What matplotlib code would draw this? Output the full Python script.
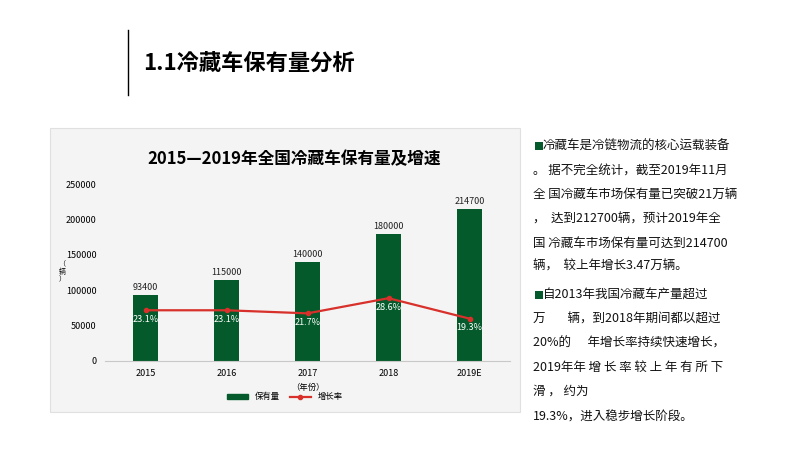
import matplotlib
matplotlib.use("Agg")
import matplotlib.pyplot as plt
from matplotlib.patches import Rectangle
from matplotlib.lines import Line2D

years = ["2015", "2016", "2017", "2018", "2019E"]
stock = [93400, 115000, 140000, 180000, 214700]
growth = [23.1, 23.1, 21.7, 28.6, 19.3]
yticks = [0, 50000, 100000, 150000, 200000, 250000]

plt.rcParams["font.family"] = ["Noto Sans CJK SC", "Noto Sans CJK JP", "Noto Sans CJK TC", "DejaVu Sans"]
GREEN = "#045a2b"
RED = "#d8302a"

fig = plt.figure(figsize=(8, 4.5), dpi=100)
fig.patch.set_facecolor("white")

# slide title
fig.add_artist(Line2D([128/800, 128/800], [1-30/450, 1-95/450], color="black", lw=1))
fig.text(143/800, 1-63/450, "1.1冷藏车保有量分析", fontsize=16, fontweight="bold", va="center")

# chart panel
fig.add_artist(Rectangle((50/800, 1-412/450), 470/800, 284/450, transform=fig.transFigure,
                         facecolor="#f4f4f4", edgecolor="#e0e0e0", lw=0.8, zorder=0))
fig.text(294/800, 1-159/450, "2015—2019年全国冷藏车保有量及增速", fontsize=12,
         fontweight="bold", ha="center", va="center")

ax = fig.add_axes([105/800, 1-361/450, 405/800, 177/450])
ax.set_facecolor("none")
x = list(range(len(years)))
ax.bar(x, stock, width=0.32, color=GREEN, zorder=2)
ax.set_ylim(0, 250000)
ax.set_xlim(-0.5, len(years)-0.5)
ax.set_yticks(yticks)
ax.set_yticklabels([str(v) for v in yticks], fontsize=6.5)
ax.set_xticks(x)
ax.set_xticklabels(years, fontsize=6.5)
ax.tick_params(length=0, pad=6)
for s in ["top", "right", "left"]:
    ax.spines[s].set_visible(False)
ax.spines["bottom"].set_color("#c8c8c8")
for xi, v in zip(x, stock):
    ax.text(xi, v + 4000, str(v), ha="center", va="bottom", fontsize=6.5, color="#222222")
ax.set_xlabel("（年份）", fontsize=6, labelpad=3)
fig.text(62/800, 1-272/450, "（\n辆\n）", fontsize=5, ha="center", va="center", linespacing=0.9)

ax2 = ax.twinx()
ax2.set_ylim(0, 80.6)
ax2.axis("off")
ax2.plot(x, growth, color=RED, lw=1.6, marker="o", markersize=3, zorder=3)
for xi, g in zip(x, growth):
    ax2.text(xi, g - 2.2, f"{g}%", ha="center", va="top", fontsize=6.5, color="white", zorder=4)

h1 = Rectangle((0, 0), 1, 1, color=GREEN)
h2 = Line2D([], [], color=RED, lw=1.6, marker="o", markersize=3)
fig.legend([h1, h2], ["保有量", "增长率"], loc="center", bbox_to_anchor=(285/800, 1-397/450),
           ncol=2, frameon=False, fontsize=6, handlelength=2.5, handleheight=0.6, columnspacing=1.2)

# right text
lines = [
    (146, "冷藏车是冷链物流的核心运载装备", True),
    (171, "。 据不完全统计，截至2019年11月", False),
    (194, "全 国冷藏车市场保有量已突破21万辆", False),
    (219, "，  达到212700辆，预计2019年全", False),
    (243, "国 冷藏车市场保有量可达到214700", False),
    (266, "辆，  较上年增长3.47万辆。", False),
    (295, "自2013年我国冷藏车产量超过", True),
    (319, "万        辆，到2018年期间都以超过", False),
    (343, "20%的      年增长率持续快速增长，", False),
    (367, "2019年年 增 长 率 较 上 年 有 所 下", False),
    (391, "滑 ， 约为", False),
    (417, "19.3%，进入稳步增长阶段。", False),
]
for y, t, bullet in lines:
    xx = 533
    if bullet:
        fig.add_artist(Rectangle((535/800, 1-(y+4)/450), 8/800, 8/450, transform=fig.transFigure,
                                 facecolor=GREEN, edgecolor="none"))
        xx = 543
    fig.text(xx/800, 1-y/450, t, fontsize=9, va="center", color="#111111")

fig.savefig("out.png", dpi=100)
